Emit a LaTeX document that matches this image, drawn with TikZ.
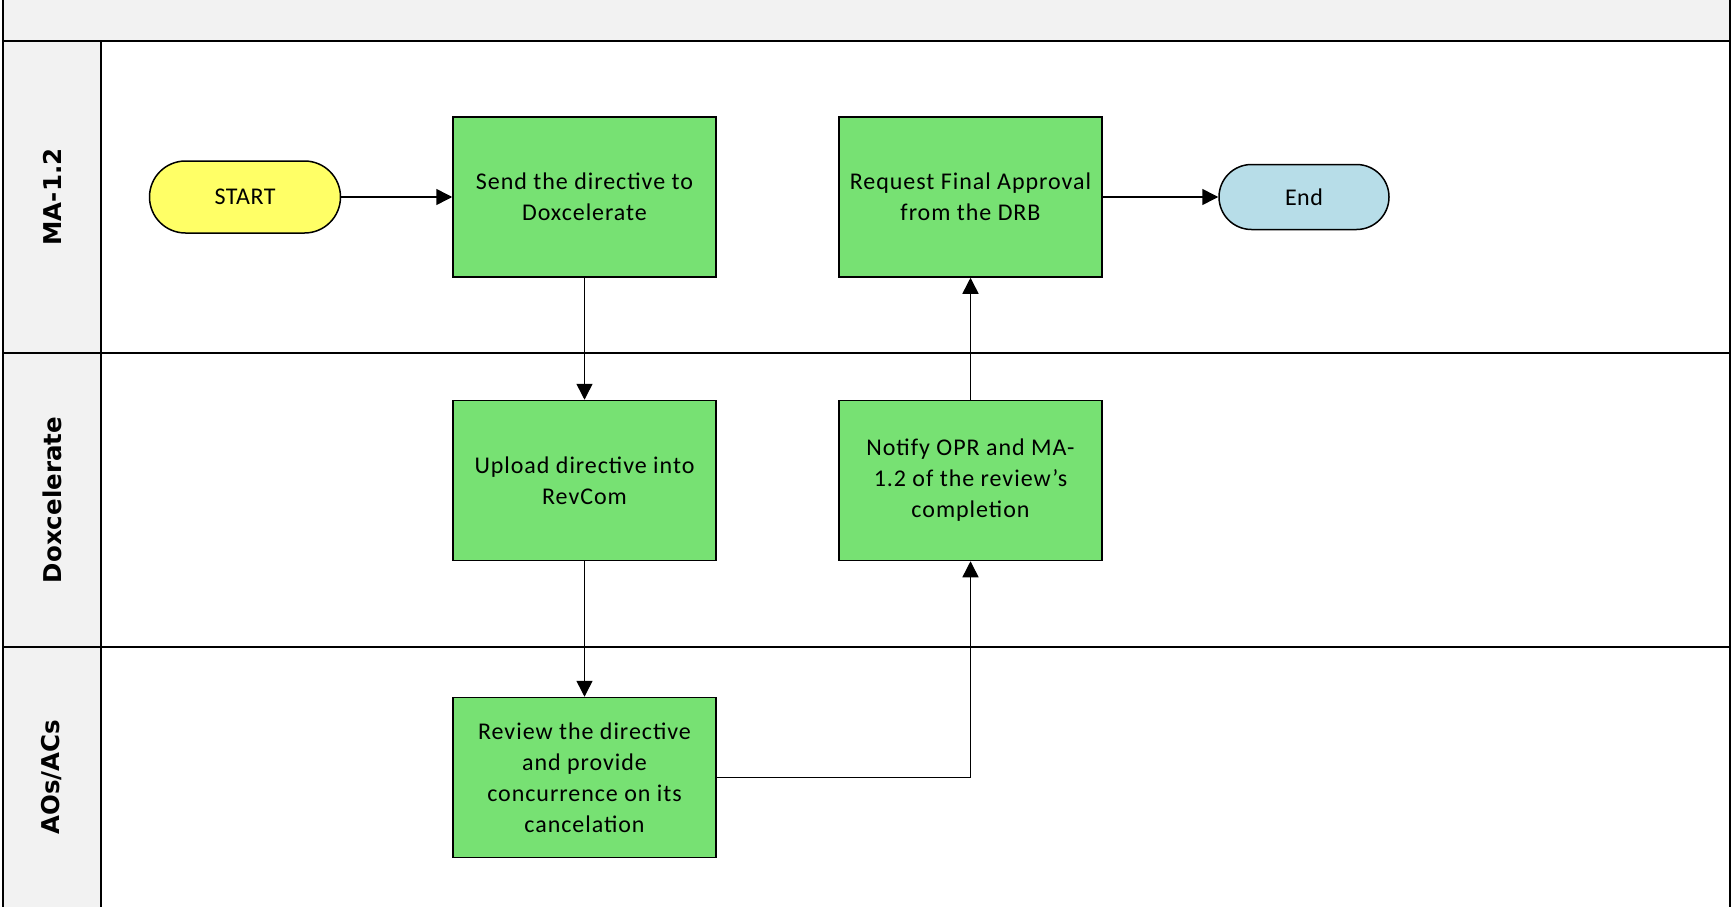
\documentclass[tikz,border=0pt]{standalone}
\usepackage{fontspec}
\setmainfont{Carlito}
\newfontfamily\boxfont{Carlito}[LetterSpace=4]
\newfontfamily\termfont{Carlito}[LetterSpace=2]
\newfontfamily\lanefont{DejaVu Sans}
\usetikzlibrary{arrows.meta}
\definecolor{hdrgray}{RGB}{242,242,242}
\definecolor{procgreen}{RGB}{119,225,115}
\definecolor{startyellow}{RGB}{255,255,102}
\definecolor{endblue}{RGB}{183,221,232}
\tikzset{
  procbox/.style={draw=black, line width=1.5pt, fill=procgreen, rectangle,
    minimum width=263pt, minimum height=160pt, align=center, inner sep=0pt,
    font=\boxfont\fontsize{24}{31}\selectfont},
  termbox/.style={draw=black, line width=1.5pt, rectangle, inner sep=0pt,
    align=center, font=\termfont\fontsize{24}{31}\selectfont},
  lanelabel/.style={rotate=90, font=\lanefont\bfseries\fontsize{24.5}{28}\selectfont, inner sep=0pt},
  laneline/.style={line width=2pt, draw=black},
  flow/.style={line width=1.5pt, -{Triangle[length=16pt,width=16pt]}}
}
\begin{document}
\begin{tikzpicture}[x=1pt,y=-1pt]
\useasboundingbox (0,0) rectangle (1732,907);
% backgrounds
\fill[hdrgray] (3,0) rectangle (1730,41);
\fill[hdrgray] (3,41) rectangle (101,907);
% lane lines
\draw[laneline] (3,41) -- (1730,41);
\draw[laneline] (3,353) -- (1730,353);
\draw[laneline] (3,647) -- (1730,647);
\draw[laneline] (3,0) -- (3,907);
\draw[laneline] (1730,0) -- (1730,907);
\draw[laneline] (101,41) -- (101,907);
% lane labels
\node[lanelabel] (l1) at (52,197) {MA-1.2};
\node[lanelabel] (l2) at (52,500) {Doxcelerate};
\node[lanelabel] (l3) at (52,777) {AOs/ACs};
% nodes
\node[termbox, fill=startyellow, minimum width=191pt, minimum height=72pt, rounded corners=36pt] (start) at (245,197) {START};
\node[procbox] (send) at (584.5,197) {Send the directive to\\Doxcelerate};
\node[procbox] (request) at (970.5,197) {Request Final Approval\\from the DRB};
\node[termbox, fill=endblue, minimum width=170pt, minimum height=65pt, rounded corners=32.5pt] (end) at (1304,197) {End};
\node[procbox] (upload) at (584.5,480.5) {Upload directive into\\RevCom};
\node[procbox] (notify) at (970.5,480.5) {Notify OPR and MA-\\1.2 of the review’s\\completion};
\node[procbox] (review) at (584.5,777.5) {Review the directive\\and provide\\concurrence on its\\cancelation};
% connectors
\draw[flow] (start) -- (send);
\draw[flow] (request) -- (end);
\draw[flow] (send) -- (upload);
\draw[flow] (upload) -- (review);
\draw[flow] (review.east) -| (notify.south);
\draw[flow] (notify) -- (request);
\end{tikzpicture}
\end{document}
